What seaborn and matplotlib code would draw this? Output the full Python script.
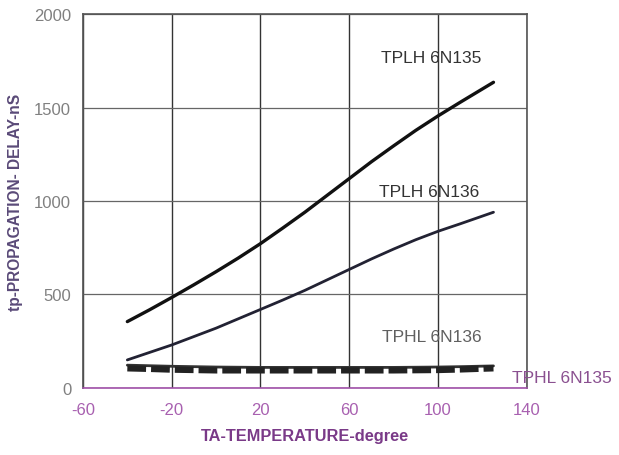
import numpy as np
import pandas as pd
import matplotlib
matplotlib.use("Agg")
import matplotlib.pyplot as plt
import seaborn as sns

# Values
temps = [-40, -30, -20, -10, 0, 10, 20, 30, 40, 50, 60, 70, 80, 90, 100, 110, 125]
tplh_6n135 = [355, 418, 484, 552, 622, 695, 772, 855, 940, 1030, 1120,
              1210, 1295, 1378, 1455, 1528, 1635]
tplh_6n136 = [150, 190, 230, 275, 320, 370, 420, 470, 522, 578, 634,
              690, 743, 793, 838, 878, 940]
tphl_6n135 = [105, 102, 98, 96, 94, 94, 94, 94, 94, 94, 94,
              94, 94, 95, 96, 99, 105]
tphl_6n136 = [122, 119, 116, 114, 112, 111, 110, 110, 110, 110, 110,
              110, 110, 111, 112, 114, 118]

x_ticks = [-60, -20, 20, 60, 100, 140]
y_ticks = [0, 500, 1000, 1500, 2000]

sns.set_theme(style="white")
plt.rcParams["font.family"] = ["Liberation Sans", "DejaVu Sans"]
plt.rcParams["axes.unicode_minus"] = False

fig = plt.figure(figsize=(6.19, 4.56), dpi=100)
ax = fig.add_axes([0.134, 0.147, 0.717, 0.82])

df = pd.DataFrame({"temp": temps, "a": tplh_6n135, "b": tplh_6n136,
                   "c": tphl_6n135, "d": tphl_6n136})

sns.lineplot(data=df, x="temp", y="a", ax=ax, color="#111111", lw=2.4)
sns.lineplot(data=df, x="temp", y="b", ax=ax, color="#222233", lw=2.0)
sns.lineplot(data=df, x="temp", y="d", ax=ax, color="#333333", lw=2.0)
sns.lineplot(data=df, x="temp", y="c", ax=ax, color="#222222", lw=4.5,
             linestyle=(0, (3, 0.8)))

ax.set_xlim(-60, 140)
ax.set_ylim(0, 2000)
ax.set_xticks(x_ticks)
ax.set_yticks(y_ticks)
ax.grid(True, axis="x", color="#333333", lw=1.0)
ax.grid(True, axis="y", color="#666666", lw=0.9)

for side in ["top", "right"]:
    ax.spines[side].set_color("#555555")
    ax.spines[side].set_linewidth(1.2)
ax.spines["left"].set_color("#555555")
ax.spines["bottom"].set_color("#a050a8")
ax.spines["bottom"].set_linewidth(1.2)

ax.tick_params(axis="y", direction="out", length=5, colors="#555555",
               labelcolor="#808080", labelsize=12)
ax.tick_params(axis="x", direction="inout", length=8, colors="#7a3a80",
               labelcolor="#a860b0", labelsize=12, pad=6)

ax.set_xlabel("TA-TEMPERATURE-degree", color="#7a3a88", fontsize=11.8,
              fontweight="bold", labelpad=8)
ax.set_ylabel("tp-PROPAGATION- DELAY-nS", color="#5a4a78", fontsize=11.2,
              fontweight="bold", labelpad=8)

ax.text(97, 1770, "TPLH 6N135", ha="center", va="center",
        color="#333333", fontsize=12.5)
ax.text(96, 1053, "TPLH 6N136", ha="center", va="center",
        color="#333333", fontsize=12.5)
ax.text(97, 275, "TPHL 6N136", ha="center", va="center",
        color="#606060", fontsize=12.5)
ax.text(156, 55, "TPHL 6N135", ha="center", va="center",
        color="#8a5090", fontsize=12.5, clip_on=False)

fig.savefig("out.png", dpi=100)
